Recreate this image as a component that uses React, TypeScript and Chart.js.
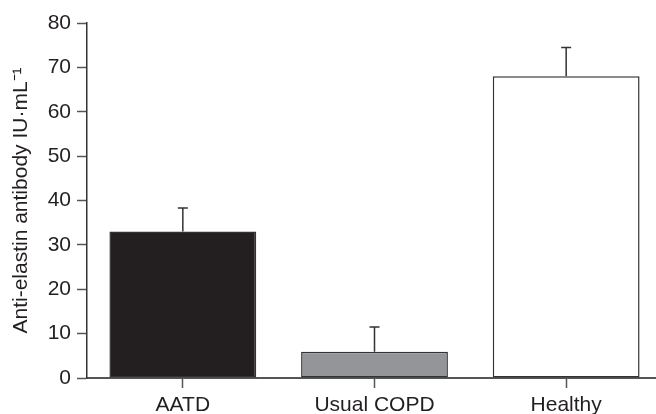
import React, { useEffect, useRef } from "react";
import { Chart, registerables } from "chart.js";

Chart.register(...registerables);

const categories = ["AATD", "Usual COPD", "Healthy"];
const means = [33, 5.9, 68];
const errors = [5.3, 5.6, 6.5];
const barColors = ["#231f20", "#939598", "#ffffff"];
const yTicks = [0, 10, 20, 30, 40, 50, 60, 70, 80];
const yTitle = "Anti-elastin antibody IU·mL⁻¹";

const errorBarPlugin = {
  id: "errorBars",
  afterDatasetsDraw(chart: any) {
    const ctx = chart.ctx;
    const x = chart.scales.x;
    const y = chart.scales.y;
    ctx.save();
    ctx.strokeStyle = "#333333";
    ctx.lineWidth = 1.5;
    means.forEach((m, i) => {
      const px = x.getPixelForValue(i);
      const top = y.getPixelForValue(m + errors[i]);
      const base = y.getPixelForValue(m);
      ctx.beginPath();
      ctx.moveTo(px, base);
      ctx.lineTo(px, top);
      ctx.moveTo(px - 5, top);
      ctx.lineTo(px + 5, top);
      ctx.stroke();
    });
    ctx.restore();
  },
};

export default function App() {
  const ref = useRef<HTMLCanvasElement>(null);
  useEffect(() => {
    if (!ref.current) return;
    const font = { family: "'Liberation Sans', Arial, sans-serif", size: 21 };
    const chart = new Chart(ref.current, {
      type: "bar",
      data: {
        labels: categories,
        datasets: [
          {
            data: means,
            backgroundColor: barColors,
            borderColor: "#333333",
            borderWidth: 1.5,
            borderSkipped: false,
            categoryPercentage: 1,
            barPercentage: 0.766,
          },
        ],
      },
      options: {
        responsive: false,
        animation: false,
        layout: { padding: { top: 23, right: 0, left: 0, bottom: 0 } },
        plugins: { legend: { display: false }, tooltip: { enabled: false } },
        scales: {
          x: {
            grid: {
              offset: false,
              drawOnChartArea: false,
              drawTicks: true,
              tickLength: 10,
              tickWidth: 1.5,
              color: "#555555",
            },
            border: { display: true, color: "#555555", width: 2 },
            ticks: { color: "#231f20", font, padding: 5, maxRotation: 0 },
            afterFit: (s: any) => {
              s.height = 36;
            },
          },
          y: {
            min: 0,
            max: 80,
            afterBuildTicks: (s: any) => {
              s.ticks = yTicks.map((v) => ({ value: v }));
            },
            grid: {
              drawOnChartArea: false,
              drawTicks: true,
              tickLength: 10,
              tickWidth: 1.5,
              color: "#555555",
            },
            border: { display: true, color: "#333333", width: 1.5 },
            ticks: { color: "#231f20", font, padding: 6 },
            title: {
              display: true,
              text: yTitle,
              color: "#231f20",
              font,
              padding: { top: 9, bottom: 0 },
            },
            afterFit: (s: any) => {
              s.width = 87;
            },
          },
        },
      },
      plugins: [errorBarPlugin],
    });
    return () => chart.destroy();
  }, []);
  return (
    <div
      style={{
        position: "fixed",
        left: 0,
        top: 0,
        width: 656,
        height: 414,
        overflow: "hidden",
        background: "#fff",
      }}
    >
      <canvas ref={ref} width={662} height={414} style={{ display: "block" }} />
    </div>
  );
}
